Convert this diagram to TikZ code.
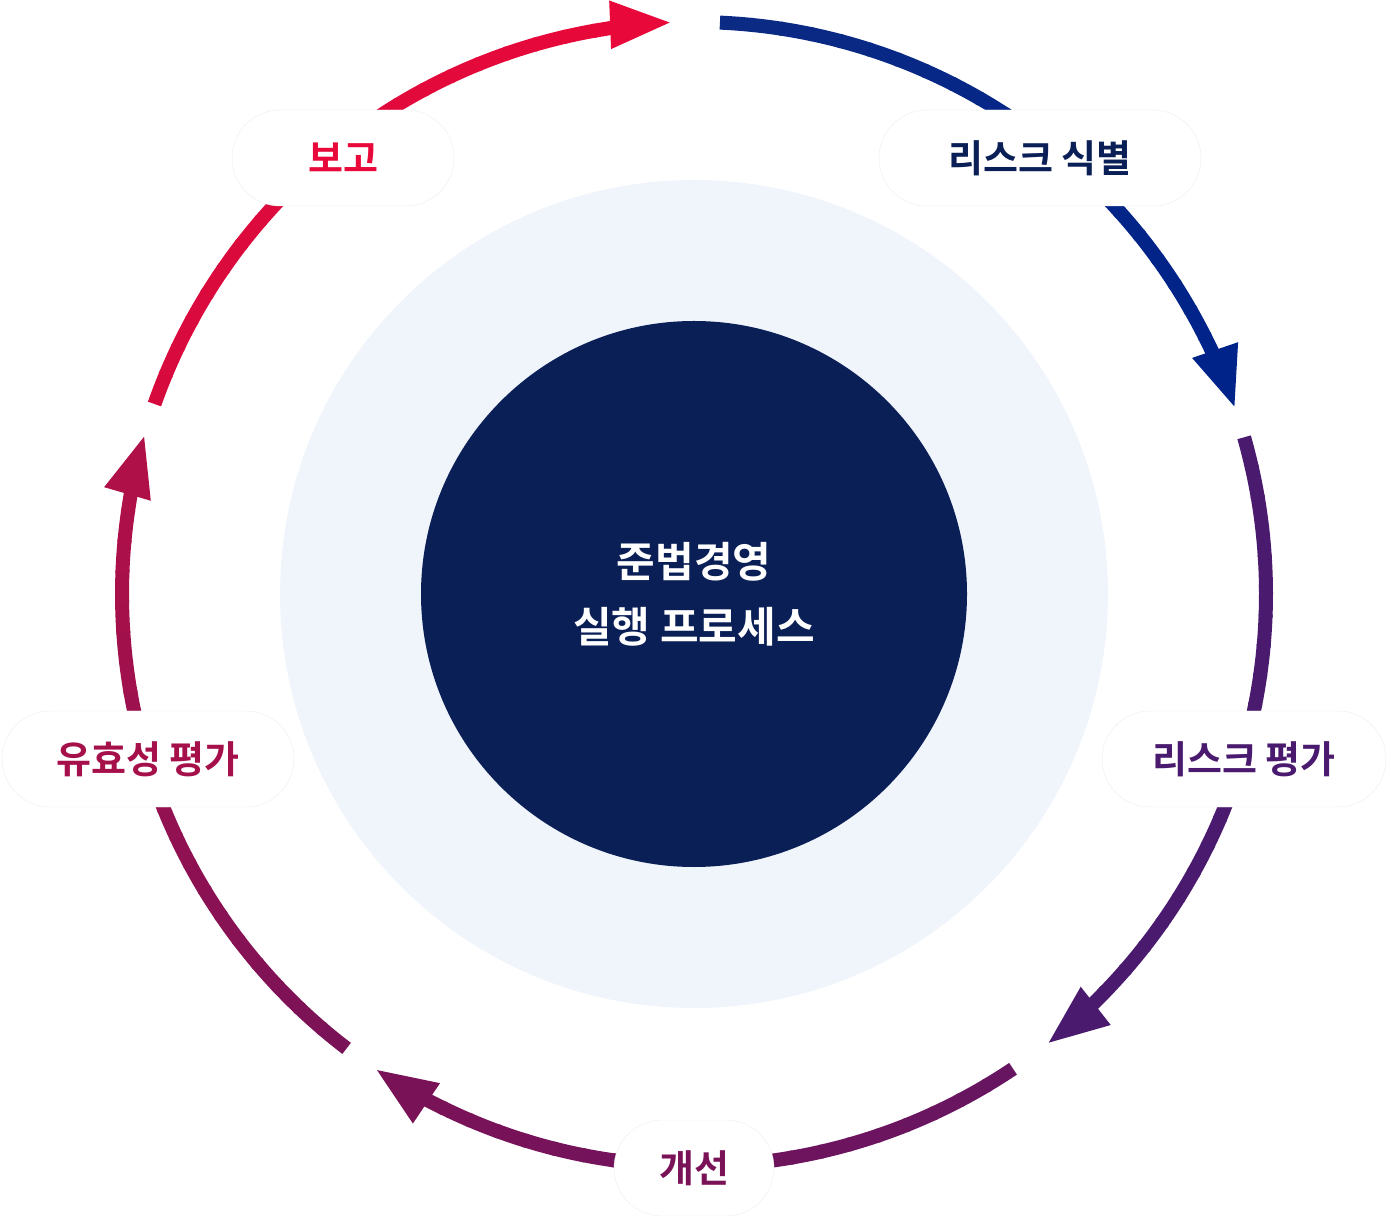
\documentclass[tikz,border=0pt]{standalone}
\usepackage{fontspec}
\newfontfamily\kr{Noto Sans CJK KR Bold}
\usetikzlibrary{arrows.meta}
\definecolor{cred}{HTML}{E8083A}
\definecolor{cnavy}{HTML}{0B2A84}
\definecolor{cblue}{HTML}{00238A}
\definecolor{cpurp}{HTML}{4A1A6E}
\definecolor{cmag}{HTML}{7A1258}
\definecolor{crm}{HTML}{B01048}
\definecolor{cdark}{HTML}{0B1F57}
\definecolor{clight}{HTML}{F0F4FB}
\tikzset{arcline/.style={line width=14pt},
 pill/.style={draw=black!7,fill=white,rounded corners=48pt,minimum height=96pt,font=\kr\fontsize{38}{40}\selectfont},
 tipst/.style={-{Triangle[length=62pt,width=44pt]}}}
\newcommand\gradarc[4]{%
 \pgfmathsetmacro\ee{#2+8}
 \foreach \i in {0,...,19}{
  \pgfmathsetmacro\a{#1+(\ee-#1)*\i/20}
  \pgfmathsetmacro\b{#1+(\ee-#1)*(\i+1.1)/20}
  \pgfmathtruncatemacro\p{100-\i*5}
  \draw[arcline,draw=#3!\p!#4] (C)++(\a:572) arc[start angle=\a,end angle=\b,radius=572];
 }
 \draw[arcline,tipst,draw=#4,fill=#4] (C)++(\ee:572) arc[start angle=\ee,end angle=#2,radius=572];
}
\begin{document}
\begin{tikzpicture}[x=1pt,y=1pt]
\useasboundingbox (0,0) rectangle (1388,1219);
\coordinate (C) at (694,625);
\node[circle,fill=clight,minimum size=828pt,inner sep=0] (lc) at (C) {};
\node[circle,fill=cdark,minimum size=546pt,inner sep=0,text=white,align=center,font=\kr\fontsize{42}{65}\selectfont] (dc) at (C) {준법경영\\실행 프로세스};
\gradarc{87.4}{18.9}{cnavy}{cblue}
\gradarc{15.9}{-51.9}{cpurp}{cpurp}
\gradarc{-56.1}{-123.9}{cpurp!40!cmag}{cmag}
\gradarc{-127.4}{-196.2}{cmag}{crm}
\gradarc{160.6}{92.2}{crm!30!cred}{cred}
\node[pill,minimum width=222pt,text=cred] (l1) at (343,1061) {보고};
\node[pill,minimum width=322pt,text=cdark] (l2) at (1040,1061) {리스크 식별};
\node[pill,minimum width=284pt,text=cpurp] (l3) at (1244,460) {리스크 평가};
\node[pill,minimum width=160pt,text=cmag] (l4) at (694,51) {개선};
\node[pill,minimum width=292pt,text=crm!80!cmag] (l5) at (148,460) {유효성 평가};
\end{tikzpicture}
\end{document}
